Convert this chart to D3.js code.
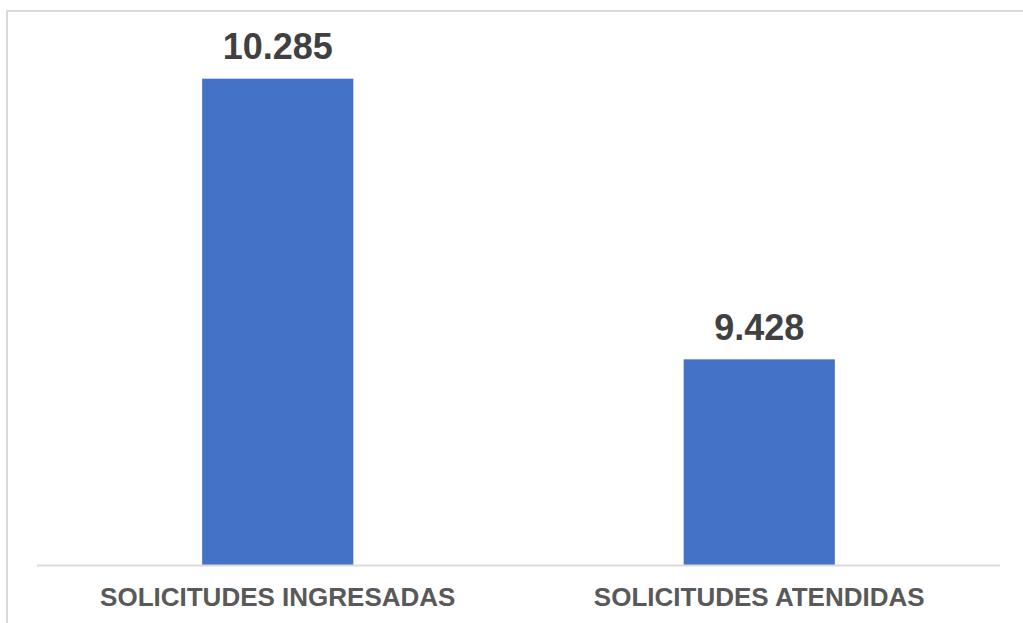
<!DOCTYPE html>
<html>
<head>
<meta charset="utf-8">
<script src="https://cdn.jsdelivr.net/npm/d3@7"></script>
<style>
  body { margin: 0; background: #fff; }
  svg { display: block; }
</style>
</head>
<body>
<div id="chart"></div>
<script>
		var categories = ["SOLICITUDES INGRESADAS", "SOLICITUDES ATENDIDAS"];
		var values = [10285, 9428];
		var valueLabels = ["10.285", "9.428"];

		var width = 1023;
		var height = 623;

		var svg = d3.select("#chart")
					.append("svg")
					.attr("width", width)
					.attr("height", height);

		// chart frame (clipped by window on right and bottom)
		svg.append("rect")
			.attr("x", 7)
			.attr("y", 11)
			.attr("width", 1100)
			.attr("height", 700)
			.attr("fill", "none")
			.attr("stroke", "#d9d9d9")
			.attr("stroke-width", 2);

		var x = d3.scaleBand()
			.domain(categories)
			.range([37, 1000])
			.paddingInner(0.686)
			.paddingOuter(0.343);

		// axis starts at 8.800 like the original
		var y = d3.scaleLinear()
			.domain([8800, 10400])
			.range([565, 41]);

		var g = svg.append("g");

		g.selectAll("rect.bar")
			.data(values)
			.enter()
			.append("rect")
			.attr("class", "bar")
			.attr("x", function(d, i){ return x(categories[i]); })
			.attr("y", function(d){ return y(d); })
			.attr("width", x.bandwidth())
			.attr("height", function(d){ return y(8800) - y(d); })
			.attr("fill", "#4472c4");

		// baseline
		svg.append("line")
			.attr("x1", x.range()[0])
			.attr("x2", x.range()[1])
			.attr("y1", y(8800) + 0.5)
			.attr("y2", y(8800) + 0.5)
			.attr("stroke", "#d9d9d9")
			.attr("stroke-width", 2);

		g.selectAll("text.val")
			.data(values)
			.enter()
			.append("text")
			.attr("class", "val")
			.attr("x", function(d, i){ return x(categories[i]) + x.bandwidth() / 2; })
			.attr("y", function(d){ return y(d) - 19.5; })
			.attr("text-anchor", "middle")
			.attr("font-family", "Liberation Sans, Arial, sans-serif")
			.attr("font-weight", "bold")
			.attr("font-size", 36)
			.attr("fill", "#404040")
			.text(function(d, i){ return valueLabels[i]; });

		g.selectAll("text.cat")
			.data(categories)
			.enter()
			.append("text")
			.attr("class", "cat")
			.attr("x", function(d){ return x(d) + x.bandwidth() / 2; })
			.attr("y", 605.5)
			.attr("text-anchor", "middle")
			.attr("font-family", "Liberation Sans, Arial, sans-serif")
			.attr("font-weight", "bold")
			.attr("font-size", 26)
			.attr("fill", "#595959")
			.text(function(d){ return d; });
</script>
</body>
</html>
